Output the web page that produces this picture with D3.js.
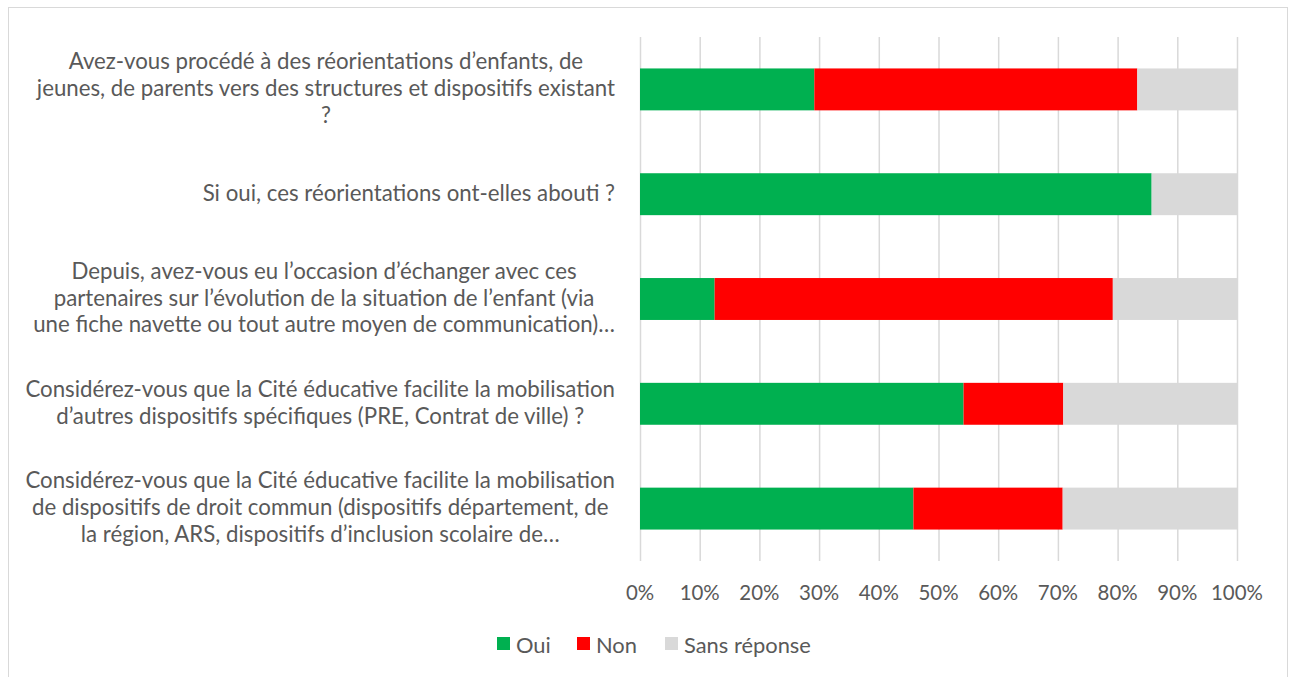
<!DOCTYPE html>
<html>
<head>
<meta charset="utf-8">
<script src="https://cdn.jsdelivr.net/npm/d3@7"></script>
<style>
  body { margin: 0; background: #fff; }
  text { font-family: Lato, "Open Sans", sans-serif; fill: #595959; }
</style>
</head>
<body>
<script>
// categories (already wrapped like the source chart)
var categories = [
  ["Avez-vous procédé à des réorientations d’enfants, de", "jeunes, de parents vers des structures et dispositifs existant", "?"],
  ["Si oui, ces réorientations ont-elles abouti ?"],
  ["Depuis, avez-vous eu l’occasion d’échanger avec ces", "partenaires sur l’évolution de la situation de l’enfant (via", "une fiche navette ou tout autre moyen de communication)…"],
  ["Considérez-vous que la Cité éducative facilite la mobilisation", "d’autres dispositifs spécifiques (PRE, Contrat de ville) ?"],
  ["Considérez-vous que la Cité éducative facilite la mobilisation", "de dispositifs de droit commun (dispositifs département, de", "la région, ARS, dispositifs d’inclusion scolaire de…"]
];
var oui  = [29.2, 85.7, 12.5, 54.2, 45.8];
var non  = [54.1, 0,    66.7, 16.7, 25.0];
var sans = [16.7, 14.3, 20.8, 29.1, 29.2];
var seriesNames = ["Oui", "Non", "Sans réponse"];
var seriesColors = ["#00B050", "#FF0000", "#D9D9D9"];
var tickValues = [0, 10, 20, 30, 40, 50, 60, 70, 80, 90, 100];

var W = 1292, H = 677;
var svg = d3.select("body").append("svg").attr("width", W).attr("height", H);

// outer chart border
svg.append("rect").attr("x", 8.5).attr("y", 7.5).attr("width", 1279).attr("height", 690)
  .attr("fill", "none").attr("stroke", "#d9d9d9");

var x = d3.scaleLinear().domain([0, 100]).range([640, 1237]);
var y = d3.scaleBand().domain(d3.range(categories.length)).range([37, 561])
  .paddingInner(0.6).paddingOuter(0.3);

// helper: font size so that a string gets a given width
function fitSize(str, target) {
  var t = svg.append("text").attr("font-size", 20).text(str);
  var w = t.node().getComputedTextLength();
  t.remove();
  return 20 * target / w;
}
var labelSize = fitSize("Considérez-vous que la Cité éducative facilite la mobilisation", 590);
var tickSize = fitSize("100%", 52);
var legendSize = fitSize("Sans réponse", 127);

// gridlines
svg.append("g").selectAll("line").data(tickValues).enter().append("line")
  .attr("x1", function(d) { return x(d) + 0.5; })
  .attr("x2", function(d) { return x(d) + 0.5; })
  .attr("y1", 37).attr("y2", 561)
  .attr("stroke", "#d9d9d9").attr("stroke-width", 1.5);

// stacked data
var rows = categories.map(function(c, i) {
  return { i: i, Oui: oui[i], Non: non[i], "Sans réponse": sans[i] };
});
var stack = d3.stack().keys(seriesNames)(rows);

svg.append("g").selectAll("g").data(stack).enter().append("g")
  .attr("fill", function(d, i) { return seriesColors[i]; })
  .selectAll("rect").data(function(d) { return d; }).enter().append("rect")
  .attr("x", function(d) { return x(d[0]); })
  .attr("width", function(d) { return x(d[1]) - x(d[0]); })
  .attr("y", function(d) { return y(d.data.i); })
  .attr("height", y.bandwidth());

// category labels: block right aligned, lines centred inside the block
var lineH = 26.8;
var labels = svg.append("g");
categories.forEach(function(lines, i) {
  var g = labels.append("g");
  var widths = lines.map(function(l) {
    var t = g.append("text").attr("font-size", labelSize).text(l);
    var w = t.node().getComputedTextLength();
    t.remove();
    return w;
  });
  var maxW = d3.max(widths);
  var cx = 615 - maxW / 2;
  var cy = y(i) + y.bandwidth() / 2 - 2;
  g.selectAll("text").data(lines).enter().append("text")
    .attr("font-size", labelSize)
    .attr("text-anchor", "middle")
    .attr("dominant-baseline", "central")
    .attr("x", cx)
    .attr("y", function(d, k) { return cy + (k - (lines.length - 1) / 2) * lineH; })
    .text(function(d) { return d; });
});

// x axis tick labels
svg.append("g").selectAll("text").data(tickValues).enter().append("text")
  .attr("font-size", tickSize)
  .attr("text-anchor", "middle")
  .attr("dominant-baseline", "central")
  .attr("x", function(d) { return x(d); })
  .attr("y", 592)
  .text(function(d) { return d + "%"; });

// legend
var legendX = [497, 577, 665];
var lg = svg.append("g").selectAll("g").data(seriesNames).enter().append("g")
  .attr("transform", function(d, i) { return "translate(" + legendX[i] + ",644)"; });
lg.append("rect").attr("x", 0).attr("y", -7).attr("width", 13).attr("height", 13)
  .attr("fill", function(d, i) { return seriesColors[i]; });
lg.append("text").attr("x", 19).attr("y", 0)
  .attr("font-size", legendSize).attr("dominant-baseline", "central")
  .text(function(d) { return d; });
</script>
</body>
</html>
